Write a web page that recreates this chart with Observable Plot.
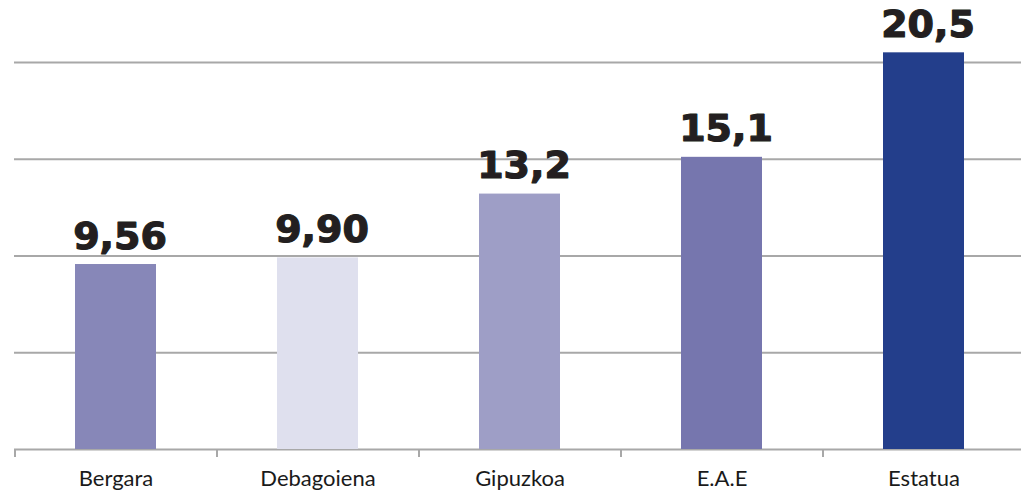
<!DOCTYPE html>
<html>
<head>
<meta charset="utf-8">
<script src="https://cdn.jsdelivr.net/npm/d3@7"></script>
<script src="https://cdn.jsdelivr.net/npm/@observablehq/plot@0.6"></script>
<style>
  html, body { margin: 0; padding: 0; background: #fff; }
  #chart svg { display: block; }
</style>
</head>
<body>
<div id="chart"></div>
<script>
const categories = ["Bergara", "Debagoiena", "Gipuzkoa", "E.A.E", "Estatua"];
const values = [9.56, 9.90, 13.2, 15.1, 20.5];
const valueLabels = ["9,56", "9,90", "13,2", "15,1", "20,5"];
const colors = ["#8787b8", "#dfe0ee", "#9e9ec6", "#7676ae", "#233e8b"];
const gridTicks = [0, 5, 10, 15, 20];

const data = categories.map((c, i) => ({cat: c, value: values[i], label: valueLabels[i], color: colors[i]}));

const W = 1021, H = 494, mL = 14, mR = -3;
const step = (W - mL - mR) / categories.length;

const chart = Plot.plot({
  width: W,
  height: H,
  marginLeft: mL,
  marginRight: mR,
  marginTop: 62,
  marginBottom: 45,
  style: {background: "#fff"},
  x: {domain: categories, paddingInner: 0.6, paddingOuter: 0.3, axis: null, label: null},
  y: {domain: [0, 20], axis: null},
  marks: [
    Plot.gridY(gridTicks, {stroke: "#a8a8a8", strokeWidth: 2, strokeOpacity: 1}),
    Plot.barY(data, {x: "cat", y: "value", fill: "color"}),
    Plot.ruleX(categories, {x: d => d, dx: -step / 2, y1: 0, y2: 0, insetBottom: -8, stroke: "#a8a8a8", strokeWidth: 2}),
    Plot.axisX({tickSize: 0, tickPadding: 21, label: null, fontSize: 22, fontFamily: "Lato, 'Open Sans', sans-serif", fill: "#1a1a1a"}),
    Plot.text(data, {x: "cat", y: "value", text: "label", lineAnchor: "bottom", dy: -16, dx: 4,
      fontSize: 38, fontWeight: "bold", fontFamily: "'DejaVu Sans', sans-serif",
      fill: "#231f20", stroke: "#231f20", strokeWidth: 1.2})
  ]
});
document.getElementById("chart").append(chart);
</script>
</body>
</html>
